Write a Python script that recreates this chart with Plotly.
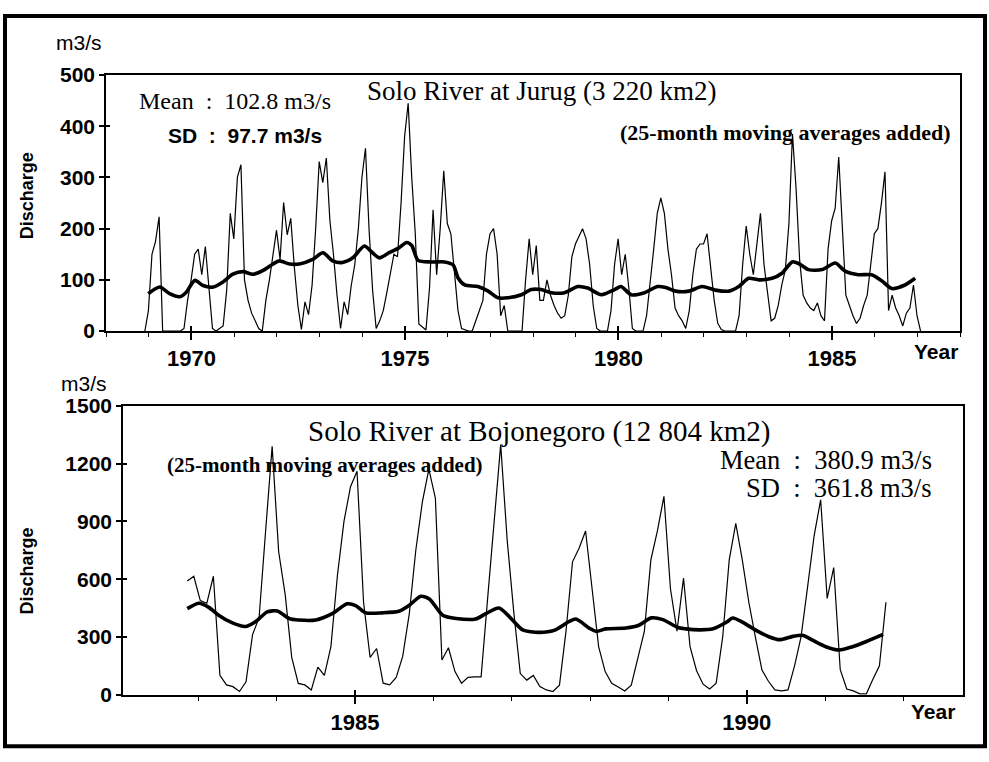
import plotly.graph_objects as go

W, H = 989, 762

# ---------------- data ----------------
# Solo River at Jurug: monthly discharge (m3/s), first month at decimal year below
jurug_start = 1968.91
jurug_q = [0, 40, 150, 175, 223, 0, 0, 0, 0, 0, 0, 5, 60, 100, 150, 160, 110, 165, 80, 5,
           0, 5, 10, 80, 230, 180, 300, 325, 100, 60, 35, 20, 5, 0, 60, 100, 146, 197, 140, 251,
           188, 220, 125, 50, 3, 57, 32, 90, 200, 331, 290, 338, 216, 150, 70, 5, 57, 32, 89, 130,
           200, 300, 357, 200, 80, 5,
           20, 40, 75, 110, 150, 145, 250, 380, 445, 300, 190, 14, 8, 2, 84, 237, 110, 200, 313, 210,
           190, 120, 40, 5, 2, 0, 0, 20, 40, 60, 150, 190, 200, 150, 30, 50, 0, 0, 0, 0,
           0, 100, 180, 110, 167, 60, 60, 100, 70, 50, 35, 25, 30, 70, 145, 170, 185, 200, 180, 130,
           50, 5, 0, 0, 0, 40, 130, 180, 110, 150, 85, 5, 0, 0, 0, 30, 90, 160, 230,
           260, 230, 160, 110, 45, 30, 20, 5, 40, 110, 160, 170, 170, 190, 120, 60, 15, 3, 0, 0,
           0, 0, 30, 130, 205, 150, 110, 170, 230, 130, 70, 20, 25, 50, 90, 120, 210, 385, 280, 140,
           70, 55, 45, 40, 55, 30, 20, 160, 215, 240, 340, 200, 70, 50, 30, 15, 25, 50, 70, 130,
           190, 200, 250, 311, 40, 70, 45, 30, 10, 35, 45, 90, 30, 0]

# 25-month moving average (Jurug)
jurug_ma_year = [1968.99, 1969.26, 1969.49, 1969.73, 1969.88, 1970.08, 1970.27, 1970.51, 1970.74, 1970.97,
                 1971.21, 1971.44, 1971.67, 1971.91, 1972.06, 1972.30, 1972.53, 1972.84, 1973.08, 1973.31,
                 1973.54, 1973.78, 1974.05, 1974.24, 1974.40, 1974.63, 1974.85, 1975.04, 1975.16, 1975.31,
                 1975.62, 1975.93, 1976.13, 1976.25, 1976.40, 1976.71, 1976.95, 1977.18, 1977.41, 1977.73,
                 1977.96, 1978.19, 1978.43, 1978.74, 1979.05, 1979.28, 1979.60, 1979.91, 1980.06, 1980.30,
                 1980.61, 1980.92, 1981.11, 1981.34, 1981.65, 1981.96, 1982.27, 1982.59, 1982.82, 1983.05,
                 1983.29, 1983.60, 1983.83, 1984.07, 1984.22, 1984.45, 1984.77, 1985.08, 1985.31, 1985.62,
                 1985.93, 1986.17, 1986.40, 1986.71, 1986.95]
jurug_ma_q = [73, 86, 73, 67, 76, 99, 89, 86, 96, 111,
              116, 111, 118, 131, 137, 131, 131, 140, 153, 137,
              134, 143, 166, 153, 143, 153, 162, 173, 167, 138,
              135, 135, 129, 103, 90, 87, 78, 65, 65, 71,
              81, 81, 75, 75, 87, 84, 71, 81, 87, 71,
              75, 87, 85, 78, 78, 87, 80, 78, 87, 103,
              100, 103, 113, 135, 132, 120, 120, 133, 117, 110,
              110, 98, 83, 90, 103]

# Solo River at Bojonegoro: monthly discharge (m3/s)
bojo_start = 1982.86
bojo_q = [590, 615, 489, 475, 615, 101, 51, 42, 17, 67, 312, 400, 850, 1289, 742, 520, 194, 59, 51, 25,
          143, 100, 250, 620, 900, 1080, 1160, 480, 194, 240,
          60, 51, 90, 200, 420, 750, 1000, 1171, 1020, 180, 244, 120, 60, 90, 93, 93, 500, 900, 1298, 800,
          430, 110, 76, 100, 42, 25, 17, 50, 329, 690, 760, 850, 560, 250, 120, 60, 40, 20, 50, 194,
          329, 700, 850, 1030, 550,
          330, 605, 250, 125, 55, 30, 60, 300, 700, 890, 700, 480, 300, 130, 70, 25, 20, 25, 150, 300,
          560, 825, 1012, 500, 660, 130, 30, 20, 5, 5, 80, 150, 480]

bojo_ma_year = [1982.86, 1983.01, 1983.13, 1983.26, 1983.43, 1983.60, 1983.73, 1983.88, 1984.01, 1984.16,
                1984.28, 1984.50, 1984.71, 1984.90, 1985.01, 1985.14, 1985.35, 1985.56, 1985.69, 1985.84,
                1985.95, 1986.12, 1986.29, 1986.54, 1986.67, 1986.84, 1987.01, 1987.14, 1987.35, 1987.56,
                1987.73, 1987.82, 1987.99, 1988.08, 1988.20, 1988.46, 1988.63, 1988.78, 1988.93, 1989.12,
                1989.22, 1989.40, 1989.57, 1989.74, 1989.82, 1989.95, 1990.12, 1990.29, 1990.42, 1990.59,
                1990.72, 1990.84, 1991.01, 1991.18, 1991.35, 1991.52, 1991.74]
bojo_ma_q = [447, 475, 455, 413, 374, 354, 379, 430, 435, 396,
             388, 388, 421, 472, 463, 425, 425, 433, 463, 511,
             497, 413, 396, 393, 421, 450, 388, 337, 324, 337,
             379, 393, 346, 329, 342, 346, 362, 399, 390, 349,
             342, 337, 342, 376, 398, 376, 334, 300, 286, 303,
             308, 283, 249, 232, 249, 275, 313]

top_title = "Solo River at Jurug (3 220 km2)"
bot_title = "Solo River at Bojonegoro (12 804 km2)"
ma_note = "(25-month moving averages added)"
top_mean = "Mean\u00a0\u00a0:\u00a0\u00a0102.8 m3/s"
top_sd = "SD\u00a0\u00a0:\u00a0\u00a097.7 m3/s"
bot_mean = "Mean\u00a0\u00a0:\u00a0\u00a0380.9 m3/s"
bot_sd = "SD\u00a0\u00a0:\u00a0\u00a0361.8 m3/s"

assert len(jurug_ma_year) == len(jurug_ma_q)
assert len(bojo_ma_year) == len(bojo_ma_q)

jurug_t = [jurug_start + i / 12 for i in range(len(jurug_q))]
bojo_t = [bojo_start + i / 12 for i in range(len(bojo_q))]

SERIF = "Liberation Serif"
SANS = "Liberation Sans"


def fx(p):
    return p / W


def fy(p):
    return 1 - p / H


fig = go.Figure()
# empty traces that register the axes carrying the inner half of the crossing ticks (drawn first, underneath)
fig.add_trace(go.Scatter(x=[], y=[], xaxis="x3", yaxis="y3", hoverinfo="skip"))
fig.add_trace(go.Scatter(x=[], y=[], xaxis="x4", yaxis="y4", hoverinfo="skip"))
thin = dict(color="black", width=1.2)
thick = dict(color="black", width=3.6, shape="spline", smoothing=0.7)
fig.add_trace(go.Scatter(x=jurug_t, y=jurug_q, mode="lines", line=thin, xaxis="x", yaxis="y", hoverinfo="skip"))
fig.add_trace(go.Scatter(x=jurug_ma_year, y=jurug_ma_q, mode="lines", line=thick, xaxis="x", yaxis="y", hoverinfo="skip"))
fig.add_trace(go.Scatter(x=bojo_t, y=bojo_q, mode="lines", line=thin, xaxis="x2", yaxis="y2", hoverinfo="skip"))
fig.add_trace(go.Scatter(x=bojo_ma_year, y=bojo_ma_q, mode="lines", line=thick, xaxis="x2", yaxis="y2", hoverinfo="skip"))

xfont = dict(family=SANS, size=22, color="black", weight="bold")
yfont = dict(family=SANS, size=21, color="black", weight="bold")
common = dict(showline=True, linecolor="black", linewidth=1.5, mirror=True, showgrid=False,
              zeroline=False, ticks="outside", tickcolor="black", tickwidth=1.5)
inner = dict(showline=False, showgrid=False, zeroline=False, ticks="inside", tickcolor="black",
             tickwidth=1.5, showticklabels=False)

top_xdom = [fx(106), fx(960)]
top_ydom = [fy(329), fy(65)]
bot_xdom = [fx(123), fx(963)]
bot_ydom = [fy(704), fy(406)]
top_xr = [1968, 1988]
bot_xr = [1982.04, 1992.76]

fig.update_layout(
    width=W, height=H, margin=dict(l=0, r=0, t=0, b=0),
    paper_bgcolor="white", plot_bgcolor="rgba(0,0,0,0)", showlegend=False,
    xaxis=dict(domain=top_xdom, range=top_xr, tickmode="linear", tick0=1970, dtick=5,
               ticklen=7, tickfont=xfont,
               minor=dict(tickmode="linear", tick0=1968, dtick=1, ticks="outside", ticklen=4,
                          tickcolor="black", tickwidth=1),
               anchor="y", **common),
    yaxis=dict(domain=top_ydom, range=[0, 500], tickmode="linear", tick0=0, dtick=100,
               ticklen=5, tickfont=yfont, anchor="x", **common),
    xaxis2=dict(domain=bot_xdom, range=bot_xr, tickmode="linear", tick0=1985, dtick=5,
                ticklen=7, tickfont=xfont,
                minor=dict(tickmode="linear", tick0=1982, dtick=1, ticks="outside", ticklen=4,
                           tickcolor="black", tickwidth=1),
                anchor="y2", **common),
    yaxis2=dict(domain=bot_ydom, range=[0, 1500], tickmode="linear", tick0=0, dtick=300,
                ticklen=5, tickfont=yfont, anchor="x2", **common),
    xaxis3=dict(domain=top_xdom, range=top_xr, tickmode="linear", tick0=1970, dtick=5, ticklen=5,
                anchor="y3", **inner),
    yaxis3=dict(domain=top_ydom, range=[0, 500], tickmode="linear", tick0=0, dtick=100, ticklen=4,
                anchor="x3", **inner),
    xaxis4=dict(domain=bot_xdom, range=bot_xr, tickmode="linear", tick0=1985, dtick=5, ticklen=5,
                anchor="y4", **inner),
    yaxis4=dict(domain=bot_ydom, range=[0, 1500], tickmode="linear", tick0=0, dtick=300, ticklen=4,
                anchor="x4", **inner),
)

ann = []


def text(s, x, y, size, family, xanchor="center", bold=False, angle=0):
    if bold:
        s = "<b>" + s + "</b>"
    ann.append(dict(text=s, x=fx(x), y=fy(y), xref="paper", yref="paper", showarrow=False,
                    xanchor=xanchor, yanchor="middle", textangle=angle,
                    font=dict(family=family, size=size, color="black")))


text(top_title, 541, 81, 27, SERIF)
text(top_mean, 137, 92, 24, SERIF, xanchor="left")
text(top_sd, 166, 127, 21, SANS, xanchor="left", bold=True)
text(ma_note, 953, 124, 22, SERIF, xanchor="right", bold=True)

text(bot_title, 539, 433, 29, SERIF)
text(ma_note, 165, 467, 21, SERIF, xanchor="left", bold=True)
text(bot_mean, 934, 462, 26.5, SERIF, xanchor="right")
text(bot_sd, 934, 491, 26.5, SERIF, xanchor="right")

text("m3/s", 79, 31, 21, SANS)
text("m3/s", 84, 383, 21, SANS)
text("Discharge", 27, 190, 18, SANS, bold=True, angle=-90)
text("Discharge", 27, 577, 18, SANS, bold=True, angle=-90)
text("Year", 936, 350, 21, SANS, bold=True)
text("Year", 933, 721, 21, SANS, bold=True)

fig.update_layout(annotations=ann)
fig.add_shape(type="rect", xref="paper", yref="paper", x0=fx(5), x1=fx(985), y0=fy(757), y1=fy(4),
              line=dict(color="black", width=4))

page_css = ("var s=document.createElement('style');"
            "s.innerHTML='html,body{margin:0 !important;padding:0 !important;overflow:hidden;}"
            " .plotly-graph-div{display:block;}';"
            "document.head.appendChild(s);")
fig.write_html("out.html", config={"displayModeBar": False}, post_script=page_css)
